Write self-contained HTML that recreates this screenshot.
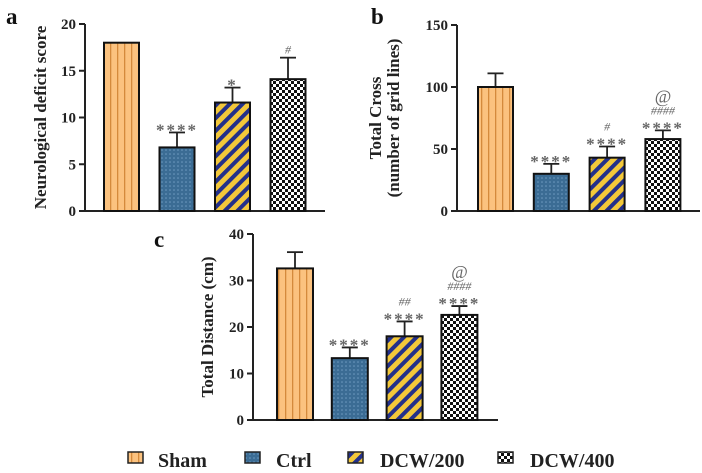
<!DOCTYPE html>
<html><head><meta charset="utf-8"><style>
body{margin:0;background:#fff;}
svg{display:block;font-family:"Liberation Serif",serif;}
</style></head><body>
<svg id="fig" width="702" height="473" viewBox="0 0 702 473" xmlns="http://www.w3.org/2000/svg">
<defs>
<pattern id="pSham" width="7" height="10" patternUnits="userSpaceOnUse"><rect width="7" height="10" fill="#fbc27f"/><rect x="5" width="1.3" height="10" fill="#d48a3c"/></pattern>
<pattern id="pCtrl" width="4" height="4" patternUnits="userSpaceOnUse"><rect width="4" height="4" fill="#3b6c94"/><circle cx="2" cy="2" r="0.8" fill="#6f9bc0"/></pattern>
<pattern id="pD2" width="9" height="9" patternUnits="userSpaceOnUse" patternTransform="rotate(45)"><rect width="9" height="9" fill="#f3c83a"/><rect width="4" height="9" fill="#23308a"/></pattern>
<pattern id="pD4" width="6" height="6" patternUnits="userSpaceOnUse"><rect width="6" height="6" fill="#fff"/><rect width="3" height="3" fill="#111"/><rect x="3" y="3" width="3" height="3" fill="#111"/></pattern>
</defs>
</svg>
<script>
const groups=["Sham","Ctrl","DCW/200","DCW/400"];
const fills=["url(#pSham)","url(#pCtrl)","url(#pD2)","url(#pD4)"];
const aMeans=[18,6.8,11.6,14.1];
const aErr=[0,1.6,1.6,2.3];
const aMarks=["","****","*","#"];
const aTicks=[0,5,10,15,20];
const bMeans=[100,30,43,58];
const bErr=[11,8,9,7];
const bMarks=["","****","****|#","****|####|@"];
const bTicks=[0,50,100,150];
const cMeans=[32.6,13.3,18,22.6];
const cErr=[3.5,2.3,3.2,1.9];
const cMarks=["","****","****|##","****|####|@"];
const cTicks=[0,10,20,30,40];
const svg=document.getElementById('fig');
const NS="http://www.w3.org/2000/svg";
function mk(t,a,p){const e=document.createElementNS(NS,t);for(const k in a)e.setAttribute(k,a[k]);(p||svg).appendChild(e);return e;}
function panel(cfg){
  const g=mk('g',{});
  
  
  const max=cfg.ticks[cfg.ticks.length-1];
  const y=v=>cfg.y0-(v/max)*(cfg.y0-cfg.yTop);
  mk('line',{x1:cfg.ax,y1:cfg.yTop,x2:cfg.ax,y2:cfg.y0,stroke:'#222','stroke-width':2},g);
  mk('line',{x1:cfg.ax,y1:cfg.y0,x2:cfg.xEnd,y2:cfg.y0,stroke:'#222','stroke-width':2},g);
  cfg.ticks.forEach(t=>{
    mk('line',{x1:cfg.ax-6,y1:y(t),x2:cfg.ax,y2:y(t),stroke:'#222','stroke-width':2},g);
    const tx=mk('text',{x:cfg.ax-9,y:y(t)+5,'text-anchor':'end','font-size':15,'font-weight':'bold',fill:'#222'},g);
    tx.textContent=t;
    
    
  });
  cfg.means.forEach((m,i)=>{
    const x=cfg.bx+i*cfg.step;
    const cx=x+cfg.bw/2;
    if(cfg.err[i]>0){
      mk('line',{x1:cx,y1:y(m),x2:cx,y2:y(m+cfg.err[i]),stroke:'#222','stroke-width':1.8},g);
      mk('line',{x1:cx-8,y1:y(m+cfg.err[i]),x2:cx+8,y2:y(m+cfg.err[i]),stroke:'#222','stroke-width':1.8},g);
    }
    const r=mk('rect',{x:x,y:y(m),width:cfg.bw,height:cfg.y0-y(m),fill:fills[i],stroke:'#111','stroke-width':2},g);
    
    
    const parts=cfg.marks[i]?cfg.marks[i].split('|'):[];
    let ly=y(m+cfg.err[i])-4;
    parts.forEach(p=>{
      const isStar=p[0]==='*';
      const t=mk('text',{x:cx,y:isStar?ly+7:ly,'text-anchor':'middle','font-size':p==='@'?18:(isStar?17:12),'font-style':isStar?'normal':'italic','font-weight':isStar?'bold':'normal','letter-spacing':isStar?2:0,fill:'#666'},g);
      t.textContent=p;
      
      
      ly-=p==='@'?16:12;
    });
  });
  const lab=mk('text',{transform:`translate(${cfg.labX},${(cfg.yTop+cfg.y0)/2}) rotate(-90)`,'text-anchor':'middle','font-size':cfg.labSize,'font-weight':'bold',fill:'#222'},g);
  cfg.label.forEach((l,k)=>{const ts=mk('tspan',{x:0,dy:k?18:0},lab);ts.textContent=l;});
  
  
  const pl=mk('text',{x:cfg.px,y:cfg.py,'font-size':23,'font-weight':'bold',fill:'#111'},g);
  pl.textContent=cfg.letter;
  
  
}
panel({name:'panel-a',ax:85,yTop:24,y0:211,xEnd:325,bx:104,bw:35,step:55.5,means:aMeans,err:aErr,marks:aMarks,ticks:aTicks,label:['Neurological deficit score'],labX:46,labSize:17,letter:'a',px:6,py:24});
panel({name:'panel-b',ax:457,yTop:25,y0:211,xEnd:700,bx:478,bw:35,step:55.8,means:bMeans,err:bErr,marks:bMarks,ticks:bTicks,label:['Total Cross','(number of grid lines)'],labX:381,labSize:17,letter:'b',px:371,py:24});
panel({name:'panel-c',ax:253,yTop:234,y0:420,xEnd:498,bx:277,bw:36,step:54.8,means:cMeans,err:cErr,marks:cMarks,ticks:cTicks,label:['Total Distance (cm)'],labX:213,labSize:17,letter:'c',px:154,py:247});
const legX=[128,245,348,498];
const legT=[158,276,380,530];
groups.forEach((gname,i)=>{
  const g=mk('g',{});
  
  
  mk('rect',{x:legX[i],y:452,width:15,height:11,fill:fills[i],stroke:'#222','stroke-width':1.5},g);
  const t=mk('text',{x:legT[i],y:467,'font-size':20,'font-weight':'bold',fill:'#222'},g);
  t.textContent=gname;
});
</script>
</body></html>
